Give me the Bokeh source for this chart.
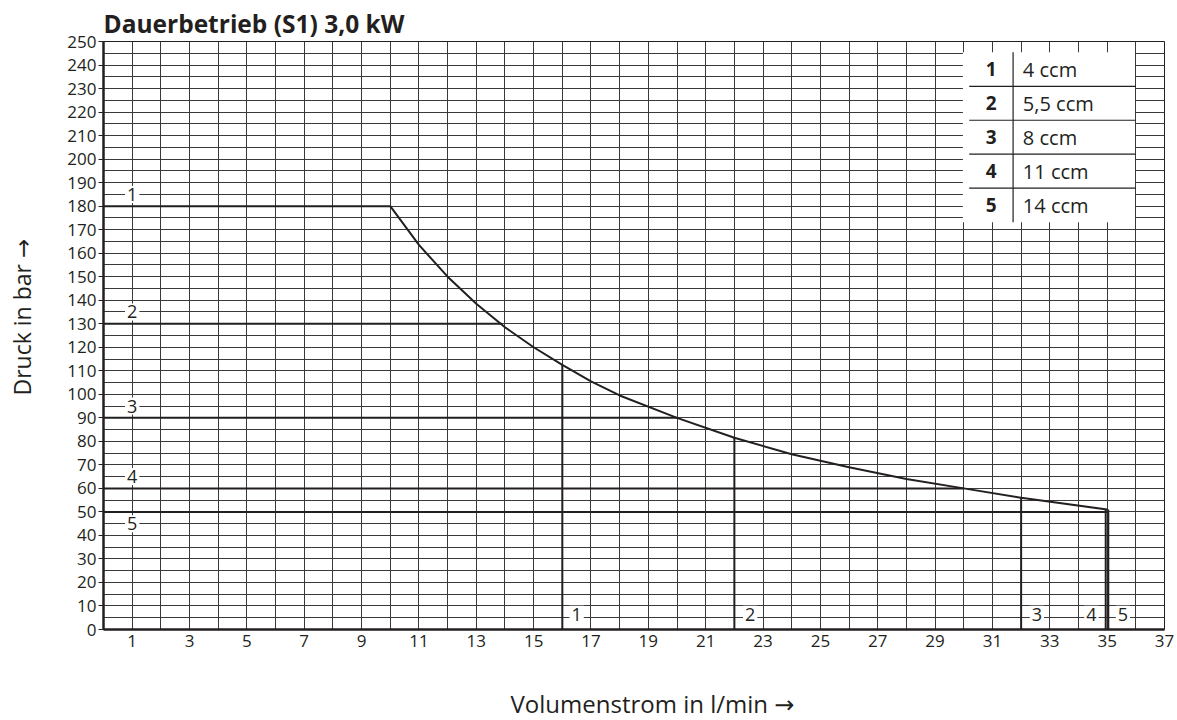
from bokeh.plotting import figure
from bokeh.models import Range1d, FixedTicker, ColumnDataSource, Title
from bokeh.core.properties import value
from bokeh.embed import file_html
from bokeh.resources import INLINE

# ---------------- data ----------------
title_text = "Dauerbetrieb (S1) 3,0 kW"
x_label = "Volumenstrom in l/min →"
y_label = "Druck in bar →"

curve_ids = ["1", "2", "3", "4", "5"]
displacements = ["4 ccm", "5,5 ccm", "8 ccm", "11 ccm", "14 ccm"]
max_pressure = [180, 130, 90, 60, 50]          # bar, horizontal limit of each curve
knee_flow = [10, 13.9, 20, 30, 35]             # l/min where horizontal meets power limit
max_flow = [16, 22, 32, 35, 35]                # l/min, vertical limit
end_pressure = [112.5, 81.5, 56, 51, 51]       # bar at the vertical limit

# 3.0 kW power-limit curve
power_flow = [10, 11, 12, 13, 14, 15, 16, 17, 18, 20, 22, 24, 26, 28, 30, 32, 35]
power_pressure = [180, 163.5, 150, 138.5, 128.5, 120, 112.5, 105.5, 99.5, 90,
                  81.5, 74.5, 69, 64, 60, 56, 51]

x_tick_values = list(range(1, 38, 2))
y_tick_values = list(range(0, 251, 10))

# ---------------- styling ----------------
FONT = "Open Sans"
LABEL_FONT = "Open Sans, DejaVu Sans"
INK = "#231f20"
GRID = "#3a3a3a"

p = figure(width=1177, height=720, x_range=Range1d(0, 37), y_range=Range1d(0, 250),
           output_backend="svg", toolbar_location=None,
           min_border_left=101, min_border_right=13, min_border_top=41, min_border_bottom=91,
           background_fill_color="white", border_fill_color="white")

p.outline_line_color = INK
p.outline_line_width = 1

p.xgrid.ticker = FixedTicker(ticks=list(range(0, 38)))
p.ygrid.ticker = FixedTicker(ticks=list(range(0, 251, 5)))
for g in (p.xgrid, p.ygrid):
    g.grid_line_color = GRID
    g.grid_line_width = 1
    g.grid_line_alpha = 1

p.xaxis.ticker = FixedTicker(ticks=x_tick_values)
p.yaxis.ticker = FixedTicker(ticks=y_tick_values)
for ax in (p.xaxis, p.yaxis):
    ax.axis_line_color = INK
    ax.axis_line_width = 2.5
    ax.major_tick_line_color = INK
    ax.minor_tick_line_color = None
    ax.major_label_text_font = FONT
    ax.major_label_text_font_size = "17px"
    ax.major_label_text_color = INK
p.xaxis.major_tick_out = 0
p.xaxis.major_tick_in = 0
p.xaxis.major_label_standoff = 5
p.yaxis.major_tick_out = 5
p.yaxis.major_tick_in = 0
p.yaxis.major_label_standoff = 2

# ---------------- curves ----------------
p.line(power_flow, power_pressure, line_color=INK, line_width=2)
p.segment(x0=[0] * 5, y0=max_pressure, x1=knee_flow, y1=max_pressure,
          line_color=INK, line_width=2)
v_offsets = [0, 0, 0, -0.05, 0.04]
vx = [f + o for f, o in zip(max_flow, v_offsets)]
p.segment(x0=vx, y0=[0] * 5, x1=vx, y1=end_pressure, line_color=INK, line_width=2)

# curve labels at the left and at the bottom
left_src = ColumnDataSource(dict(x=[1] * 5, y=[m + 5 if m > 50 else m - 5 for m in max_pressure],
                                 t=curve_ids))
p.text(x="x", y="y", text="t", source=left_src, text_font=value(FONT), text_font_size="18px",
       text_color=INK, text_align="center", text_baseline="middle",
       background_fill_color="white", padding=2)
bottom_x = [f + d for f, d in zip(max_flow, [0.5, 0.55, 0.55, -0.55, 0.55])]
bot_src = ColumnDataSource(dict(x=bottom_x, y=[6.5] * 5, t=curve_ids))
p.text(x="x", y="y", text="t", source=bot_src, text_font=value(FONT), text_font_size="18px",
       text_color=INK, text_align="center", text_baseline="middle",
       background_fill_color="white", padding=2)

# ---------------- legend table ----------------
tab_left, tab_right, tab_top, tab_bottom = 29.97, 35.97, 245.4, 173.2
p.quad(left=[tab_left], right=[tab_right], top=[tab_top], bottom=[tab_bottom],
       fill_color="white", line_color=None)
row_h = (tab_top - tab_bottom) / 5
sep_y = [tab_top - row_h * (i + 1) for i in range(4)]
p.segment(x0=[30.19] * 4, y0=sep_y, x1=[36] * 4, y1=sep_y, line_color=INK, line_width=1.2)
p.segment(x0=[31.72], y0=[tab_bottom], x1=[31.72], y1=[tab_top], line_color=INK, line_width=1.2)
row_y = [tab_top - row_h * (i + 0.5) for i in range(5)]
p.text(x=[30.96] * 5, y=row_y, text=curve_ids, text_font=value(FONT), text_font_size="19px",
       text_font_style="bold", text_color=INK, text_align="center", text_baseline="middle")
p.text(x=[32.06] * 5, y=row_y, text=displacements, text_font=value(FONT), text_font_size="20px",
       text_color=INK, text_align="left", text_baseline="middle")

# ---------------- titles ----------------
p.title.text = title_text
p.title.align = "left"
p.title.offset = 0
p.title.text_font = FONT
p.title.text_font_size = "24.5px"
p.title.text_font_style = "bold"
p.title.text_color = INK
p.title.standoff = 4

# spacer + x-axis caption below
p.add_layout(Title(text=" ", text_font_size="1px", standoff=32), "below")
p.add_layout(Title(text=x_label, align="left", offset=407, text_font=LABEL_FONT,
                   text_font_size="24px", text_font_style="normal", text_color=INK,
                   standoff=0, vertical_align="bottom"), "below")
# spacer + y-axis caption on the left
p.add_layout(Title(text=" ", text_font_size="1px", standoff=17), "left")
p.add_layout(Title(text=y_label, align="left", offset=234, text_font=LABEL_FONT,
                   text_font_size="23px", text_font_style="normal", text_color=INK,
                   standoff=10, vertical_align="top"), "left")

open("out.html", "w").write(file_html(p, INLINE))
